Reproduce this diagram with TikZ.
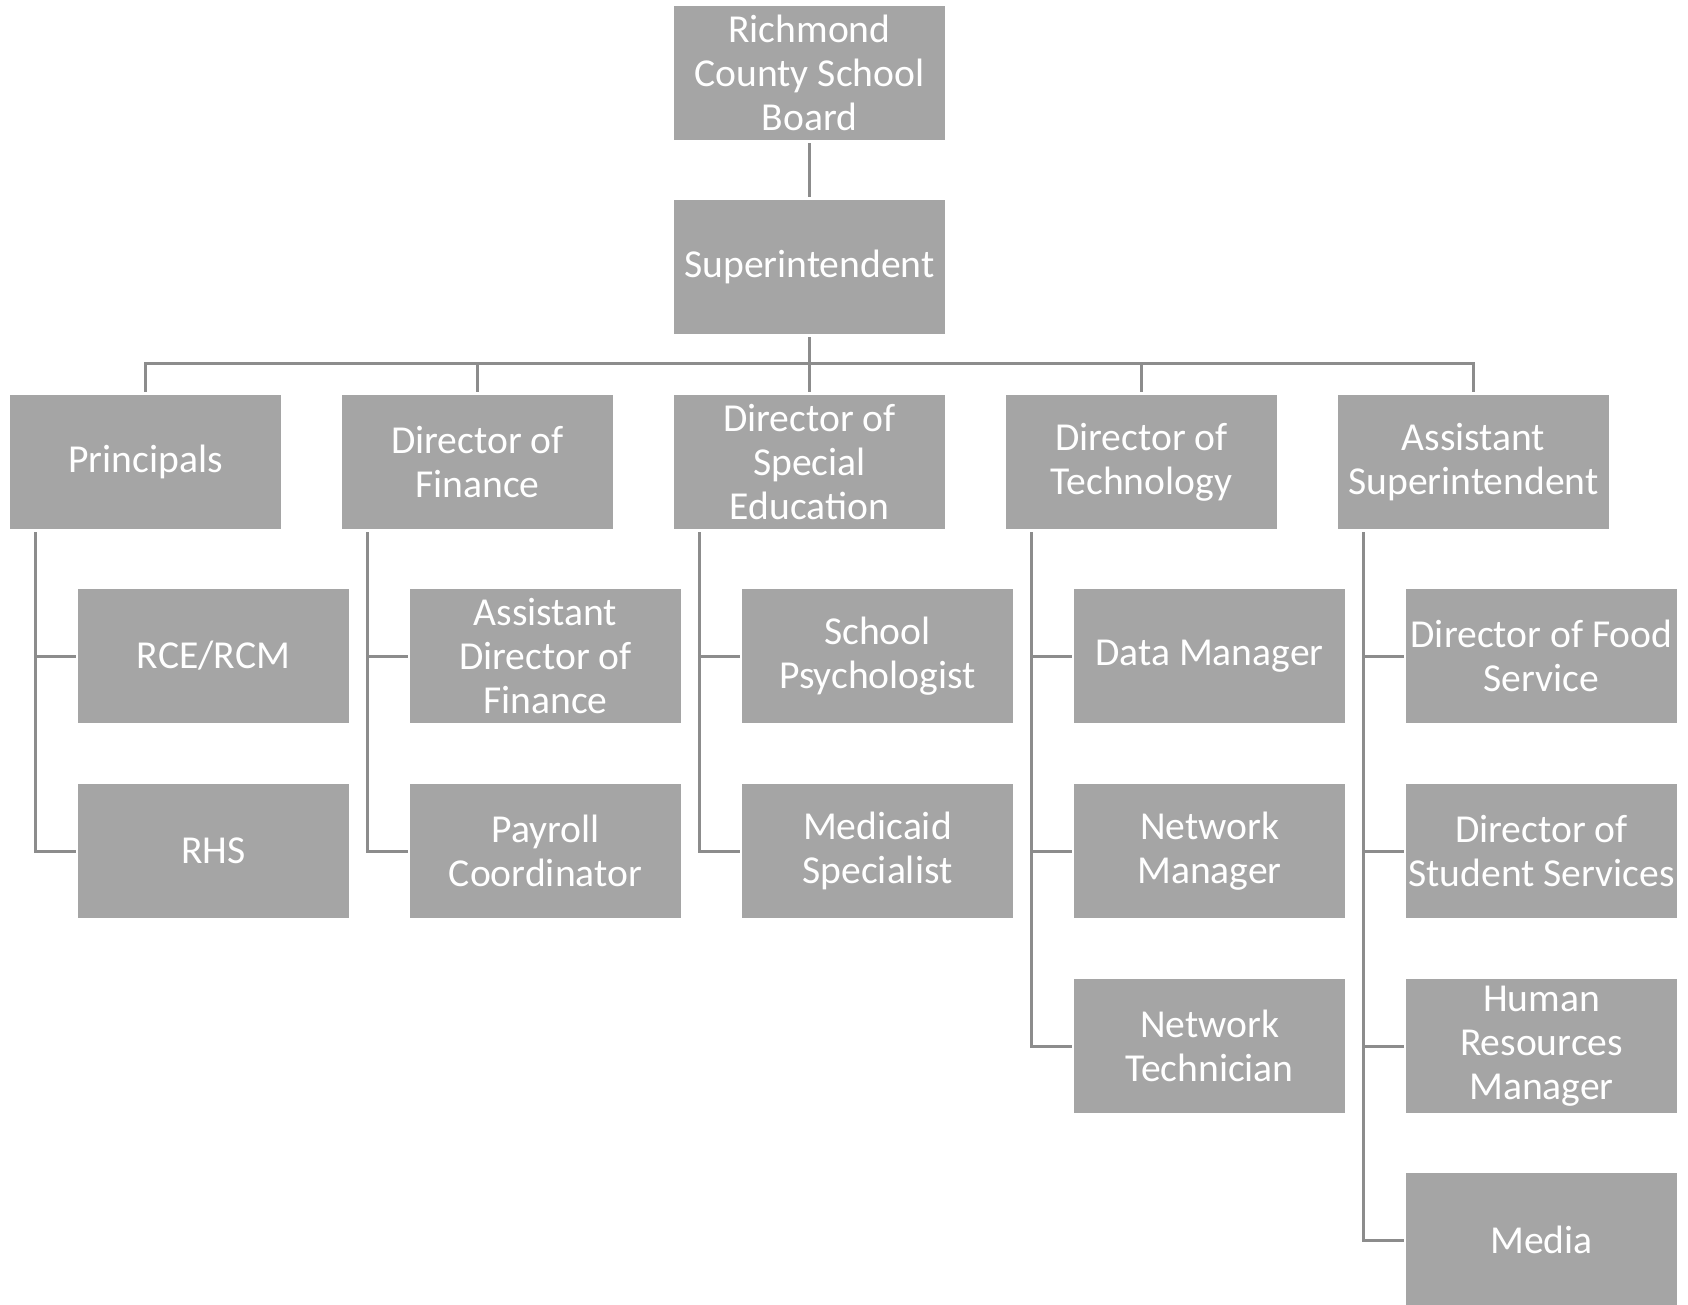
\documentclass[tikz,border=0pt]{standalone}
\usepackage{fontspec}
\setmainfont{Carlito}
\definecolor{boxgray}{HTML}{A5A5A5}
\definecolor{linegray}{HTML}{8C8C8C}
\tikzset{
  box/.style={fill=boxgray, text=white, inner sep=0pt, minimum width=135.5pt,
    minimum height=67pt, text width=135.5pt, align=flush center,
    font=\fontsize{19.8}{22}\selectfont},
  link/.style={draw=linegray, line width=1.5pt},
}
\begin{document}
\begin{tikzpicture}[x=0.5pt,y=-0.5pt]
  \useasboundingbox (0,0) rectangle (1688,1305);
  %board and superintendent
  	\node[box] (board) at (809.5,73) {Richmond\\County School\\Board};
  	\node[box] (super) at (809.5,267) {Superintendent};

  %directors
  	\node[box] (prin) at (145.5,462) {Principals};
  	\node[box] (fin) at (477.5,462) {Director of\\Finance};
  	\node[box] (sped) at (809.5,462) {Director of\\Special\\Education};
  	\node[box] (tech) at (1141.5,462) {Director of\\Technology};
  	\node[box] (asst) at (1473.5,462) {Assistant\\Superintendent};

  %staff
  	\node[box] (rce) at (213.5,656) {RCE/RCM};
  	\node[box] (rhs) at (213.5,851) {RHS};
  	\node[box] (afin) at (545.5,656) {Assistant\\Director of\\Finance};
  	\node[box] (pay) at (545.5,851) {Payroll\\Coordinator};
  	\node[box] (psych) at (877.5,656) {School\\Psychologist};
  	\node[box] (medi) at (877.5,851) {Medicaid\\Specialist};
  	\node[box] (data) at (1209.5,656) {Data Manager};
  	\node[box] (netm) at (1209.5,851) {Network\\Manager};
  	\node[box] (nett) at (1209.5,1046) {Network\\Technician};
  	\node[box] (food) at (1541.5,656) {Director of Food\\Service};
  	\node[box] (stud) at (1541.5,851) {Director of\\Student Services};
  	\node[box] (hr) at (1541.5,1046) {Human\\Resources\\Manager};
  	\node[box] (media) at (1541.5,1240) {Media};

  %lines
  	\draw[link,shorten <=1.5pt,shorten >=1.5pt] (board) -- (super);
  	\coordinate (bus) at (809.5,364);
  	\draw[link,shorten <=1.5pt] (super) -- (bus);
  	\foreach \n in {prin,fin,sped,tech,asst}
  	  \draw[link,shorten <=1.5pt] (\n) |- (bus);
  	\foreach \p/\c in {prin/rce,prin/rhs,fin/afin,fin/pay,sped/psych,sped/medi,
  	    tech/data,tech/netm,tech/nett,asst/food,asst/stud,asst/hr,asst/media}
  	  \draw[link,shorten <=1.5pt,shorten >=1pt] ([xshift=13pt]\p.south west) |- (\c);
\end{tikzpicture}
\end{document}
